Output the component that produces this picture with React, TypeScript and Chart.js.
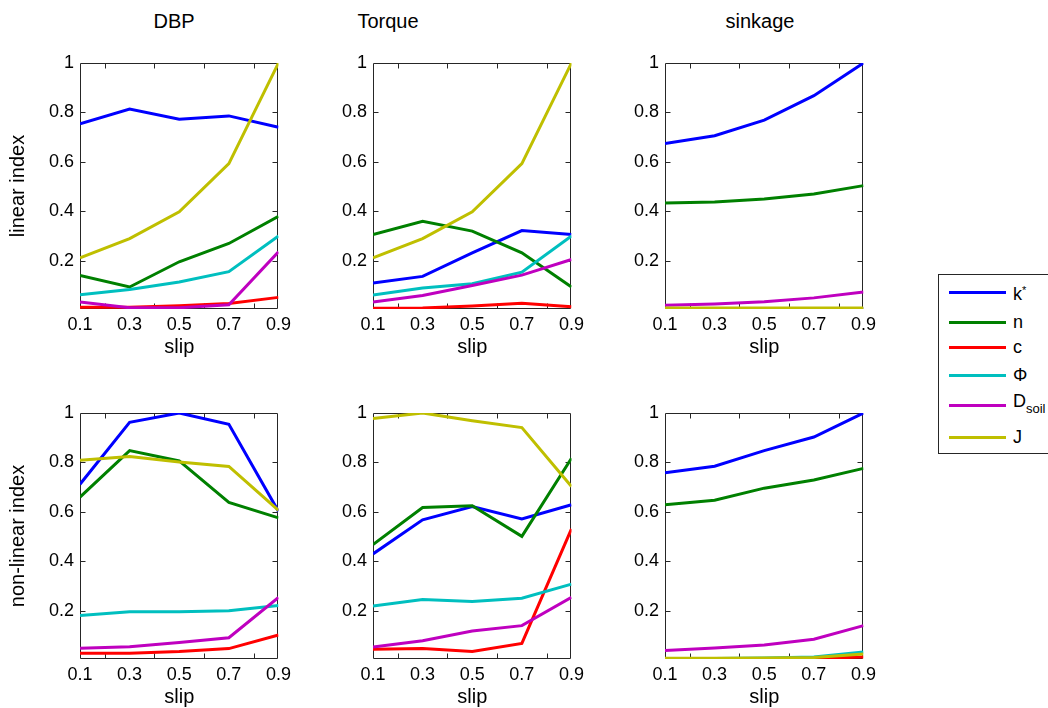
import React, { useEffect, useRef } from "react";
import { Chart, registerables } from "chart.js";

Chart.register(...registerables);

// ---------- data ----------
const slip = [0.1, 0.3, 0.5, 0.7, 0.9];
const yTickValues = [0.2, 0.4, 0.6, 0.8, 1];
const xMinorTicks = [0.2, 0.4, 0.6, 0.8];
const yMinorTicks = [0.2, 0.4, 0.6, 0.8];
const columnTitles = ["DBP", "Torque", "sinkage"];
const rowTitles = ["linear index", "non-linear index"];
const seriesNames = ["k*", "n", "c", "Φ", "Dsoil", "J"];
const seriesColors = ["#0000ff", "#008000", "#ff0000", "#00bfbf", "#bf00bf", "#bfbf00"];

// DBP – linear index
const dbpLinK = [0.754, 0.814, 0.773, 0.786, 0.74];
const dbpLinN = [0.141, 0.094, 0.196, 0.27, 0.38];
const dbpLinC = [0.012, 0.012, 0.018, 0.027, 0.052];
const dbpLinPhi = [0.063, 0.084, 0.114, 0.156, 0.3];
const dbpLinD = [0.033, 0.01, 0.01, 0.022, 0.236];
const dbpLinJ = [0.212, 0.29, 0.398, 0.593, 1.0];

// Torque – linear index
const trqLinK = [0.11, 0.137, 0.232, 0.322, 0.306];
const trqLinN = [0.306, 0.36, 0.32, 0.232, 0.094];
const trqLinC = [0.008, 0.009, 0.017, 0.028, 0.014];
const trqLinPhi = [0.062, 0.09, 0.107, 0.154, 0.3];
const trqLinD = [0.033, 0.06, 0.1, 0.142, 0.205];
const trqLinJ = [0.212, 0.29, 0.398, 0.593, 1.0];

// sinkage – linear index
const snkLinK = [0.674, 0.706, 0.769, 0.868, 1.0];
const snkLinN = [0.434, 0.438, 0.45, 0.47, 0.504];
const snkLinC = [0.006, 0.006, 0.006, 0.006, 0.006];
const snkLinPhi = [0.007, 0.007, 0.007, 0.007, 0.007];
const snkLinD = [0.02, 0.025, 0.034, 0.05, 0.074];
const snkLinJ = [0.009, 0.009, 0.009, 0.009, 0.009];

// DBP – non-linear index
const dbpNlK = [0.712, 0.962, 1.0, 0.954, 0.602];
const dbpNlN = [0.66, 0.848, 0.806, 0.638, 0.576];
const dbpNlC = [0.028, 0.028, 0.035, 0.047, 0.102];
const dbpNlPhi = [0.181, 0.196, 0.196, 0.2, 0.221];
const dbpNlD = [0.048, 0.055, 0.072, 0.091, 0.254];
const dbpNlJ = [0.809, 0.824, 0.802, 0.784, 0.606];

// Torque – non-linear index
const trqNlK = [0.43, 0.568, 0.622, 0.571, 0.629];
const trqNlN = [0.468, 0.618, 0.625, 0.501, 0.817];
const trqNlC = [0.044, 0.047, 0.035, 0.068, 0.531];
const trqNlPhi = [0.219, 0.246, 0.238, 0.251, 0.308];
const trqNlD = [0.053, 0.079, 0.118, 0.14, 0.255];
const trqNlJ = [0.978, 1.0, 0.969, 0.941, 0.703];

// sinkage – non-linear index
const snkNlK = [0.758, 0.785, 0.848, 0.903, 1.0];
const snkNlN = [0.629, 0.647, 0.696, 0.729, 0.776];
const snkNlC = [0.004, 0.004, 0.005, 0.007, 0.013];
const snkNlPhi = [0.006, 0.007, 0.009, 0.013, 0.033];
const snkNlD = [0.039, 0.049, 0.062, 0.085, 0.14];
const snkNlJ = [0.008, 0.008, 0.009, 0.011, 0.025];

const Y_MIN = 0.005;
const Y_MAX = 1;

const FONT = "'Liberation Sans', Arial, Helvetica, sans-serif";
const AXIS_COLOR = "#262626";

// ---------- layout ----------
const PLOT_W = 201;
const PLOT_H = 246;
const Y_AXIS_W = 80;
const X_AXIS_H = 50;
const PAD_TOP = 63;
const PAD_RIGHT = 15;
const colLefts = [80, 373, 665];
const rowTops = [63, 413];
const titleCenters = [174, 388, 760];

const boxPlugin = {
  id: "matlabBox",
  beforeDatasetsDraw(chart: any) {
    const { ctx, chartArea: a, scales } = chart;
    const x = scales.x;
    const y = scales.y;
    ctx.save();
    ctx.strokeStyle = AXIS_COLOR;
    ctx.lineWidth = 1;
    const L = Math.round(a.left) + 0.5;
    const R = Math.round(a.right) - 0.5;
    const T = Math.round(a.top) + 0.5;
    const B = Math.round(a.bottom) - 0.5;
    ctx.beginPath();
    ctx.rect(L, T, R - L, B - T);
    const len = 5;
    xMinorTicks.forEach((v) => {
      const px = Math.round(x.getPixelForValue(v)) + 0.5;
      ctx.moveTo(px, B);
      ctx.lineTo(px, B - len);
      ctx.moveTo(px, T);
      ctx.lineTo(px, T + len);
    });
    yMinorTicks.forEach((v) => {
      const py = Math.round(y.getPixelForValue(v)) + 0.5;
      ctx.moveTo(L, py);
      ctx.lineTo(L + len, py);
      ctx.moveTo(R, py);
      ctx.lineTo(R - len, py);
    });
    ctx.stroke();
    ctx.restore();
  },
};

type PanelProps = {
  left: number;
  top: number;
  series: number[][];
  yTitle?: string;
};

function Panel({ left, top, series, yTitle }: PanelProps) {
  const ref = useRef<HTMLCanvasElement>(null);
  const width = Y_AXIS_W + PLOT_W + PAD_RIGHT;
  const height = PAD_TOP + PLOT_H + X_AXIS_H;
  useEffect(() => {
    const chart = new Chart(ref.current as HTMLCanvasElement, {
      type: "line",
      data: {
        datasets: series.map((vals, i) => ({
          label: seriesNames[i],
          data: slip.map((x, j) => ({ x, y: vals[j] })),
          borderColor: seriesColors[i],
          backgroundColor: seriesColors[i],
          borderWidth: 3,
          pointRadius: 0,
          tension: 0,
          fill: false,
          order: series.length - 1 - i,
        })),
      },
      options: {
        responsive: false,
        maintainAspectRatio: false,
        animation: false,
        events: [],
        layout: { padding: { left: 0, top: PAD_TOP, right: PAD_RIGHT, bottom: 0 } },
        plugins: {
          legend: { display: false },
          tooltip: { enabled: false },
          title: { display: false },
        },
        scales: {
          x: {
            type: "linear",
            min: 0.1,
            max: 0.9,
            grid: { display: false, drawTicks: false, tickLength: 0 },
            border: { display: false },
            afterBuildTicks: (s: any) => {
              s.ticks = slip.map((v) => ({ value: v }));
            },
            afterFit: (s: any) => {
              s.height = X_AXIS_H;
            },
            ticks: {
              autoSkip: false,
              maxRotation: 0,
              minRotation: 0,
              padding: 5,
              color: "#000",
              font: { family: FONT, size: 18 },
              callback: (v: any) => Number(v).toFixed(1),
            },
            title: {
              display: true,
              text: "slip",
              color: "#000",
              font: { family: FONT, size: 20 },
              padding: 0,
            },
          },
          y: {
            type: "linear",
            min: Y_MIN,
            max: Y_MAX,
            grid: { display: false, drawTicks: false, tickLength: 0 },
            border: { display: false },
            afterBuildTicks: (s: any) => {
              s.ticks = yTickValues.map((v) => ({ value: v }));
            },
            afterFit: (s: any) => {
              s.width = Y_AXIS_W;
            },
            ticks: {
              autoSkip: false,
              padding: 6,
              color: "#000",
              font: { family: FONT, size: 18 },
              callback: (v: any) => (Number(v) === 1 ? "1" : Number(v).toFixed(1)),
            },
            title: {
              display: !!yTitle,
              text: yTitle || "",
              color: "#000",
              font: { family: FONT, size: 20 },
              padding: { top: 6, bottom: 0 },
            },
          },
        },
      } as any,
      plugins: [boxPlugin],
    });
    return () => chart.destroy();
  }, []);
  return (
    <canvas
      ref={ref}
      width={width}
      height={height}
      style={{ position: "absolute", left, top, width, height }}
    />
  );
}

const panelSeries = [
  [
    [dbpLinK, dbpLinN, dbpLinC, dbpLinPhi, dbpLinD, dbpLinJ],
    [trqLinK, trqLinN, trqLinC, trqLinPhi, trqLinD, trqLinJ],
    [snkLinK, snkLinN, snkLinC, snkLinPhi, snkLinD, snkLinJ],
  ],
  [
    [dbpNlK, dbpNlN, dbpNlC, dbpNlPhi, dbpNlD, dbpNlJ],
    [trqNlK, trqNlN, trqNlC, trqNlPhi, trqNlD, trqNlJ],
    [snkNlK, snkNlN, snkNlC, snkNlPhi, snkNlD, snkNlJ],
  ],
];

const legendCenters = [17, 47, 72, 100, 130, 162];

function LegendLabel({ i }: { i: number }) {
  if (i === 0)
    return (
      <span>
        k<sup style={{ fontSize: 11, verticalAlign: 6 }}>*</sup>
      </span>
    );
  if (i === 4)
    return (
      <span>
        D<sub style={{ fontSize: 13, verticalAlign: -6 }}>soil</sub>
      </span>
    );
  return <span>{seriesNames[i]}</span>;
}

export default function App() {
  return (
    <div
      style={{
        position: "fixed",
        left: 0,
        top: 0,
        width: 1048,
        height: 708,
        overflow: "hidden",
        background: "#fff",
        fontFamily: FONT,
        color: "#000",
      }}
    >
      {columnTitles.map((t, c) => (
        <div
          key={t}
          style={{
            position: "absolute",
            left: titleCenters[c] - 100,
            width: 200,
            top: 9,
            textAlign: "center",
            fontSize: 20,
            lineHeight: "24px",
          }}
        >
          {t}
        </div>
      ))}
      {rowTops.map((rt, r) =>
        colLefts.map((cl, c) => (
          <Panel
            key={`${r}-${c}`}
            left={cl - Y_AXIS_W}
            top={rt - PAD_TOP}
            series={panelSeries[r][c]}
            yTitle={c === 0 ? rowTitles[r] : undefined}
          />
        ))
      )}
      <div
        style={{
          position: "absolute",
          left: 938,
          top: 274,
          width: 140,
          height: 178,
          border: `1px solid ${AXIS_COLOR}`,
          background: "#fff",
        }}
      >
        {seriesNames.map((n, i) => (
          <div
            key={n}
            style={{
              position: "absolute",
              left: 10,
              top: legendCenters[i] - 12,
              height: 24,
              display: "flex",
              alignItems: "center",
              whiteSpace: "nowrap",
              fontSize: 18,
              lineHeight: "18px",
            }}
          >
            <span
              style={{
                display: "inline-block",
                width: 57,
                height: 3,
                background: seriesColors[i],
              }}
            />
            <span style={{ marginLeft: 7 }}>
              <LegendLabel i={i} />
            </span>
          </div>
        ))}
      </div>
    </div>
  );
}
